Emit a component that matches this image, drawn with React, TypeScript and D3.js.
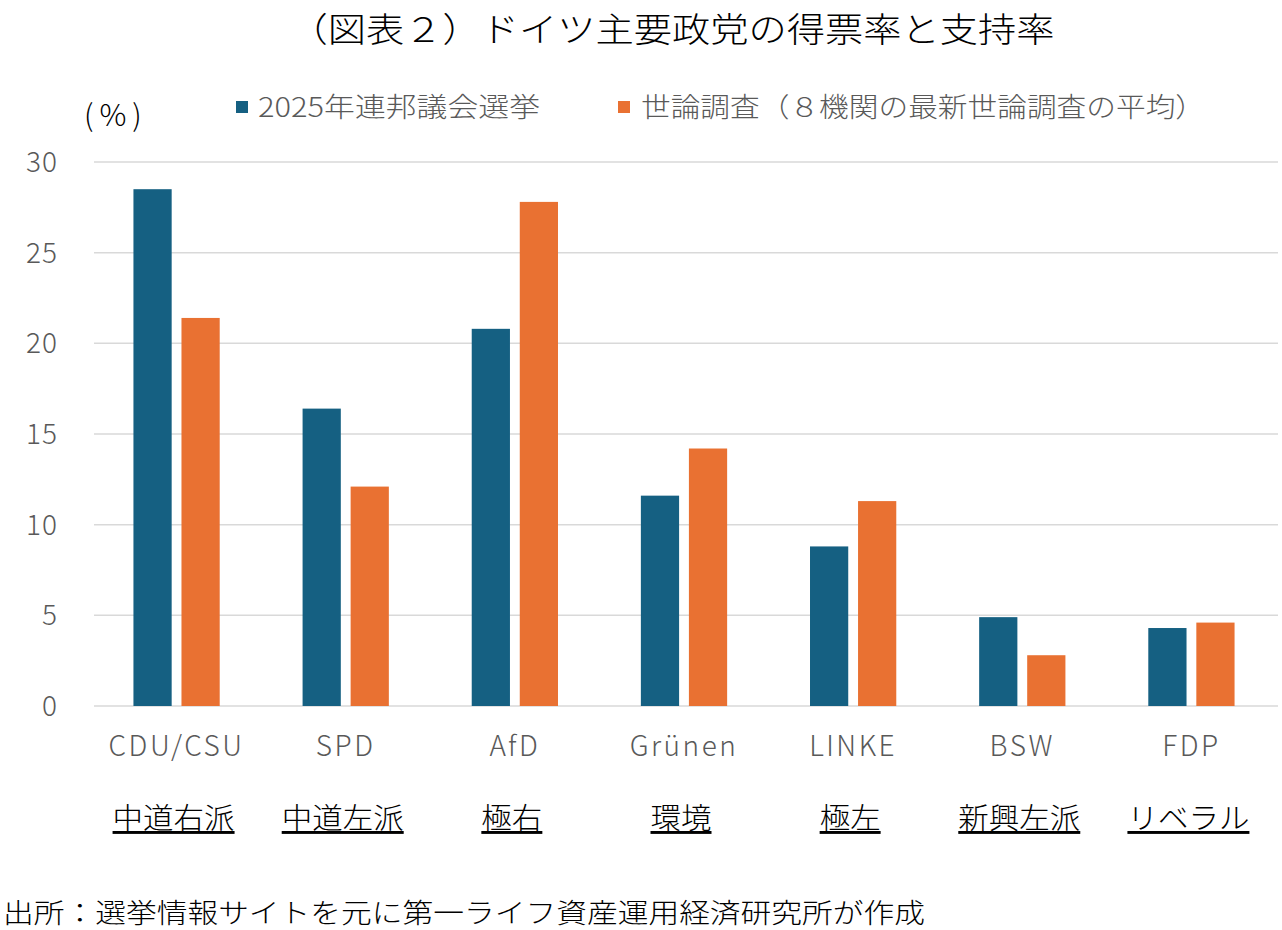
import React from "react";
import * as d3 from "d3";

const parties = ["CDU/CSU", "SPD", "AfD", "Grünen", "LINKE", "BSW", "FDP"];
const leanings = ["中道右派", "中道左派", "極右", "環境", "極左", "新興左派", "リベラル"];
const election2025 = [28.5, 16.4, 20.8, 11.6, 8.8, 4.9, 4.3];
const polls = [21.4, 12.1, 27.8, 14.2, 11.3, 2.8, 4.6];
const yTicks = [0, 5, 10, 15, 20, 25, 30];
const seriesNames = ["2025年連邦議会選挙", "世論調査（８機関の最新世論調査の平均）"];
const colors = ["#156082", "#E97132"];

const W = 1282;
const H = 930;
const FONT = "'Noto Sans CJK JP', 'Noto Sans', sans-serif";

export default function App() {
  const left = 94;
  const right = 1278;
  const top = 162;
  const bottom = 706;

  const x = d3.scaleBand<string>().domain(parties).range([left, right]);
  const y = d3.scaleLinear().domain([0, 30]).range([bottom, top]);
  const bw = x.bandwidth();
  const barW = bw * 0.226;
  const inner = bw * 0.058;
  const series = [election2025, polls];

  return (
    <svg
      width={W}
      height={H}
      viewBox={`0 0 ${W} ${H}`}
      style={{ position: "absolute", left: 0, top: 0, background: "#fff" }}
      fontFamily={FONT}
    >
      <rect x={0} y={0} width={W} height={H} fill="#fff" />
      <text x={672} y={42} textAnchor="middle" fontSize={34} fill="#000" fontWeight={300} textLength={765} lengthAdjust="spacingAndGlyphs">
        （図表２）ドイツ主要政党の得票率と支持率
      </text>

      {/* legend */}
      <rect x={236} y={101} width={12} height={12} fill={colors[0]} />
      <text x={258} y={117} fontSize={27} fill="#595959" fontWeight={300} textLength={282} lengthAdjust="spacingAndGlyphs">
        {seriesNames[0]}
      </text>
      <rect x={618} y={101} width={12} height={12} fill={colors[1]} />
      <text x={641} y={117} fontSize={27} fill="#595959" fontWeight={300} textLength={564} lengthAdjust="spacingAndGlyphs">
        {seriesNames[1]}
      </text>

      <text x={84} y={126} fontSize={30} fill="#000" fontWeight={300} letterSpacing={6}>(%)</text>

      {/* grid */}
      {yTicks.map((t) => (
        <g key={t}>
          <line x1={left} x2={right} y1={y(t)} y2={y(t)} stroke="#d9d9d9" strokeWidth={1.5} />
          <text x={58} y={y(t) + 10} textAnchor="end" fontSize={28} fill="#595959" fontWeight={300} letterSpacing={1}>
            {t}
          </text>
        </g>
      ))}

      {/* bars */}
      {parties.map((p, i) => {
        const cx = (x(p) as number) + bw / 2 - 2;
        return (
          <g key={p}>
            {series.map((s, k) => {
              const bx = k === 0 ? cx - inner / 2 - barW : cx + inner / 2;
              return (
                <rect
                  key={k}
                  x={bx}
                  y={y(s[i])}
                  width={barW}
                  height={y(0) - y(s[i])}
                  fill={colors[k]}
                />
              );
            })}
            <text x={cx} y={756} textAnchor="middle" fontSize={28} fill="#595959" fontWeight={300} letterSpacing={2.5}>
              {p}
            </text>
            <text
              x={cx - 3}
              y={829}
              textAnchor="middle"
              fontSize={29}
              fill="#000"
              fontWeight={300}
              textDecoration="underline"
              textLength={leanings[i].length * 30.5}
              lengthAdjust="spacingAndGlyphs"
            >
              {leanings[i]}
            </text>
          </g>
        );
      })}

      <text x={3} y={923} fontSize={27} fill="#000" fontWeight={300} textLength={922} lengthAdjust="spacingAndGlyphs">
        出所：選挙情報サイトを元に第一ライフ資産運用経済研究所が作成
      </text>
    </svg>
  );
}
